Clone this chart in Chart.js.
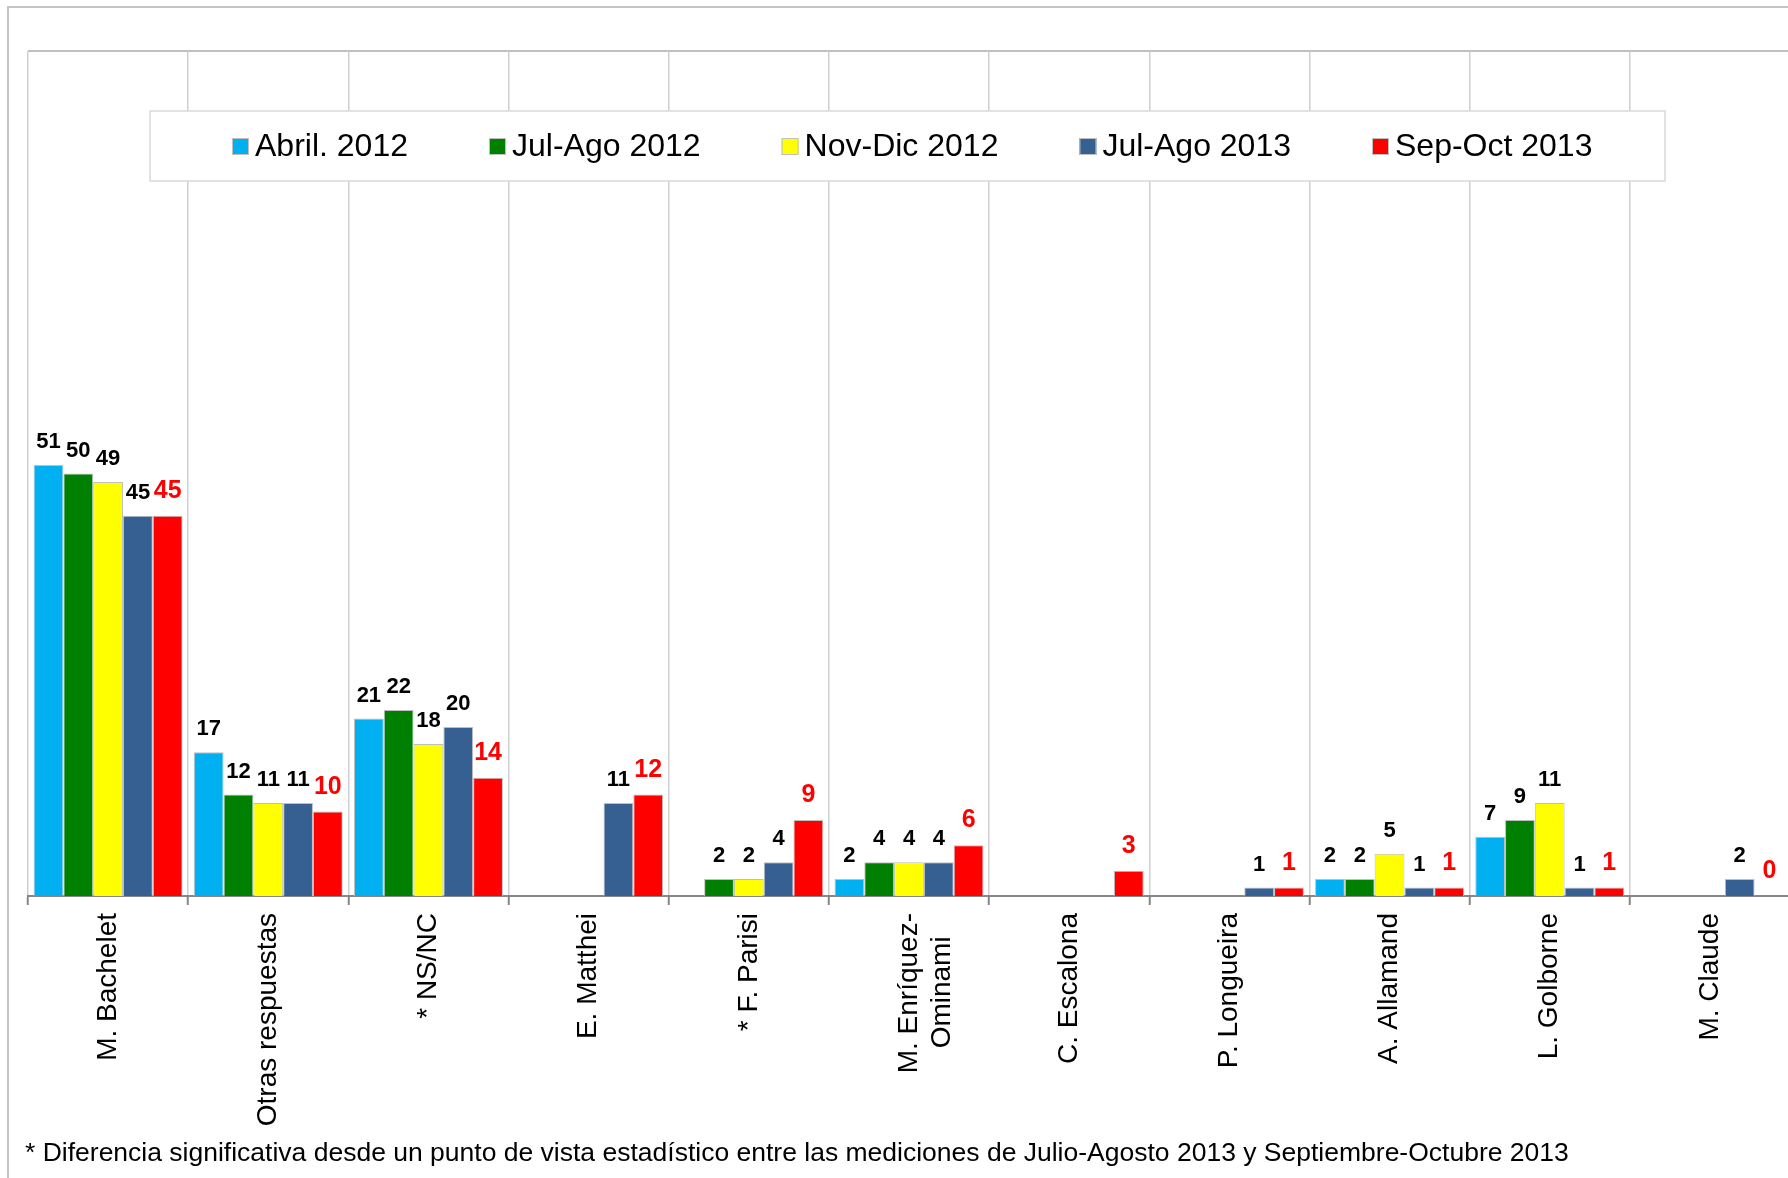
<!DOCTYPE html>
<html>
<head>
<meta charset="utf-8">
<script src="https://cdn.jsdelivr.net/npm/chart.js@4.4.0/dist/chart.umd.min.js"></script>
<style>
  html, body { margin: 0; padding: 0; background: #fff; overflow: hidden; }
  #wrap { position: relative; width: 1800px; height: 1178px; }
</style>
</head>
<body>
<div id="wrap"><canvas id="chart"></canvas></div>
<script>
const categories = [
  "M. Bachelet", "Otras respuestas", "* NS/NC", "E. Matthei", "* F. Parisi",
  ["M. Enríquez-", "Ominami   "], "C. Escalona", "P. Longueira", "A. Allamand",
  "L. Golborne", "M. Claude"
];
const seriesNames = ["Abril. 2012", "Jul-Ago 2012", "Nov-Dic 2012", "Jul-Ago 2013", "Sep-Oct 2013"];
const abril2012 = [51, 17, 21, null, null, 2, null, null, 2, 7, null];
const julAgo2012 = [50, 12, 22, null, 2, 4, null, null, 2, 9, null];
const novDic2012 = [49, 11, 18, null, 2, 4, null, null, 5, 11, null];
const julAgo2013 = [45, 11, 20, 11, 4, 4, null, 1, 1, 1, 2];
const sepOct2013 = [45, 10, 14, 12, 9, 6, 3, 1, 1, 1, 0];
const seriesColors = ["#00B0F0", "#008000", "#FFFF00", "#376092", "#FF0000"];
const footnote = "* Diferencia significativa desde un punto de vista estadístico entre las mediciones de Julio-Agosto 2013 y Septiembre-Octubre 2013";

const FONT = '"Liberation Sans", Arial, sans-serif';
const allSeries = [abril2012, julAgo2012, novDic2012, julAgo2013, sepOct2013];

// outer frame + top edge of the plot
const framePlugin = {
  id: "frame",
  beforeDraw(chart) {
    const { ctx, chartArea } = chart;
    ctx.save();
    ctx.fillStyle = "#fff";
    ctx.fillRect(0, 0, chart.width, chart.height);
    ctx.strokeStyle = "#c4c4c4";
    ctx.lineWidth = 2;
    ctx.beginPath();
    ctx.moveTo(8, chart.height);
    ctx.lineTo(8, 7);
    ctx.lineTo(chart.width, 7);
    ctx.stroke();
    ctx.strokeStyle = "#c0c0c0";
    ctx.beginPath();
    ctx.moveTo(chartArea.left, chartArea.top);
    ctx.lineTo(chart.width, chartArea.top);
    ctx.stroke();
    ctx.restore();
  }
};

// numbers above each bar, last series in red
const valueLabels = {
  id: "valueLabels",
  afterDatasetsDraw(chart) {
    const { ctx } = chart;
    ctx.save();
    ctx.textAlign = "center";
    ctx.textBaseline = "alphabetic";
    chart.data.datasets.forEach((ds, i) => {
      const last = i === chart.data.datasets.length - 1;
      ctx.fillStyle = last ? "#FF0000" : "#000";
      ctx.font = "bold " + (last ? 25 : 22) + "px " + FONT;
      chart.getDatasetMeta(i).data.forEach((bar, j) => {
        const v = ds.data[j];
        if (v === null || v === undefined) return;
        ctx.fillText(String(v), bar.x, bar.y - (last ? 18 : 17));
      });
    });
    ctx.restore();
  }
};

// boxed legend across the top of the plot
const boxLegend = {
  id: "boxLegend",
  afterDraw(chart) {
    const { ctx } = chart;
    ctx.save();
    ctx.fillStyle = "#fff";
    ctx.strokeStyle = "#d9d9d9";
    ctx.lineWidth = 1.5;
    ctx.fillRect(150, 111, 1515, 70);
    ctx.strokeRect(150, 111, 1515, 70);
    ctx.font = "32px " + FONT;
    ctx.textBaseline = "middle";
    ctx.textAlign = "left";
    let x = 232;
    chart.data.datasets.forEach(ds => {
      ctx.fillStyle = ds.backgroundColor;
      ctx.fillRect(x, 138, 17, 17);
      ctx.strokeStyle = "#bfbfbf";
      ctx.lineWidth = 1;
      ctx.strokeRect(x + 0.5, 138.5, 16, 16);
      ctx.fillStyle = "#000";
      ctx.fillText(ds.label, x + 23, 147);
      x += 23 + ctx.measureText(ds.label).width + 81;
    });
    ctx.restore();
  }
};

const footnotePlugin = {
  id: "footnote",
  afterDraw(chart) {
    const { ctx } = chart;
    ctx.save();
    ctx.font = "26.5px " + FONT;
    ctx.fillStyle = "#000";
    ctx.textAlign = "left";
    ctx.textBaseline = "alphabetic";
    ctx.fillText(footnote, 25, 1161);
    ctx.restore();
  }
};

new Chart(document.getElementById("chart"), {
  type: "bar",
  data: {
    labels: categories,
    datasets: seriesNames.map((name, i) => ({
      label: name,
      data: allSeries[i],
      backgroundColor: seriesColors[i],
      borderColor: "#bfbfbf",
      borderWidth: 1,
      categoryPercentage: 0.93,
      barPercentage: 1
    }))
  },
  options: {
    responsive: true,
    maintainAspectRatio: false,
    animation: false,
    devicePixelRatio: 1,
    layout: { padding: { left: 28, top: 51, right: 10, bottom: 0 } },
    plugins: {
      legend: { display: false },
      tooltip: { enabled: false }
    },
    scales: {
      x: {
        grid: { color: "#d0d0d0", lineWidth: 1.5, tickLength: 9, tickColor: "#868686", tickWidth: 2 },
        border: { color: "#868686", width: 2 },
        ticks: {
          color: "#000",
          font: { family: FONT, size: 28 },
          minRotation: 90,
          maxRotation: 90,
          autoSkip: false,
          padding: 8
        },
        afterFit(scale) { scale.height = 1178 - 896; }
      },
      y: { display: false, min: 0, max: 100 }
    }
  },
  plugins: [framePlugin, valueLabels, boxLegend, footnotePlugin]
});
</script>
</body>
</html>
